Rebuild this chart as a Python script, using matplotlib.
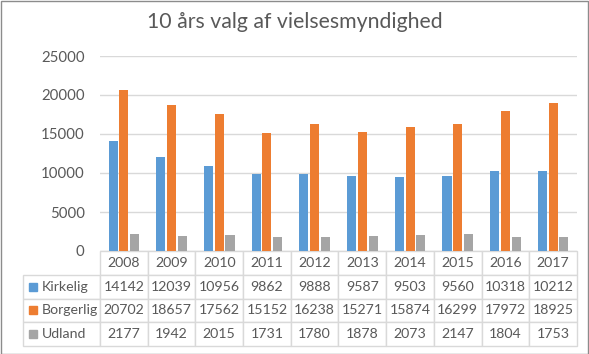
import matplotlib.pyplot as plt
from matplotlib.patches import Rectangle

plt.rcParams['font.family'] = ['Lato', 'DejaVu Sans']

# data
years = ['2008', '2009', '2010', '2011', '2012', '2013', '2014', '2015', '2016', '2017']
kirkelig = [14142, 12039, 10956, 9862, 9888, 9587, 9503, 9560, 10318, 10212]
borgerlig = [20702, 18657, 17562, 15152, 16238, 15271, 15874, 16299, 17972, 18925]
udland = [2177, 1942, 2015, 1731, 1780, 1878, 2073, 2147, 1804, 1753]

series = [('Kirkelig', kirkelig, '#5B9BD5'),
          ('Borgerlig', borgerlig, '#ED7D31'),
          ('Udland', udland, '#A5A5A5')]

txt = '#595959'
grid = '#D9D9D9'

W, H = 589, 354
fig = plt.figure(figsize=(W / 100, H / 100), dpi=100)

# axes placed in pixel terms
left, right, top, bottom = 100, 577, 56, 251
ax = fig.add_axes([left / W, 1 - bottom / H, (right - left) / W, (bottom - top) / H])
px = 1 / (right - left)   # one pixel in axes fraction, x
py = 1 / (bottom - top)   # one pixel in axes fraction, y

bw = 0.19
offs = [-0.225, 0.0, 0.225]
x = list(range(len(years)))
for (name, vals, col), o in zip(series, offs):
    ax.bar([i + o for i in x], vals, width=bw, color=col, zorder=3)

ax.set_xlim(-0.5, len(years) - 0.5)
ax.set_ylim(0, 25000)
ax.set_yticks(range(0, 25001, 5000))
ax.yaxis.grid(True, color=grid, linewidth=1, zorder=0)
ax.tick_params(axis='y', length=0, pad=11, labelsize=10.8, labelcolor=txt)
ax.tick_params(axis='x', length=0, labelbottom=False)
for s in ax.spines.values():
    s.set_visible(False)

# data table under the bars
cell_text = [[str(v) for v in vals] for _, vals, _ in series]
lab_w = (left - 23) * px
tab_h = (346 - bottom) * py
tbl = ax.table(cellText=cell_text, colLabels=years, cellLoc='center',
               colWidths=[1 / len(years)] * len(years),
               bbox=[0, -tab_h, 1, tab_h])
tbl.auto_set_font_size(False)
h = tbl[1, 0].get_height()
for r in range(1, len(series) + 1):
    tbl.add_cell(r, -1, width=lab_w, height=h, text='', loc='left')
for (r, c), cell in tbl.get_celld().items():
    cell.set_edgecolor(grid)
    cell.set_linewidth(1)
    cell.get_text().set_color(txt)
    cell.get_text().set_fontsize(10.2)

# legend keys and names in the label column
row_h = tab_h / 4
for k, (name, vals, col) in enumerate(series):
    yc = -row_h * (k + 1.5)
    ax.add_patch(Rectangle((-lab_w + 6 * px, yc - 4 * py), 8 * px, 8 * py,
                           transform=ax.transAxes, color=col, clip_on=False))
    ax.text(-lab_w + 19 * px, yc, name, transform=ax.transAxes, ha='left',
            va='center', fontsize=10.2, color=txt)

fig.text(0.5, 1 - 22 / H, '10 års valg af vielsesmyndighed', ha='center', va='center',
         fontsize=15.3, color=txt)

fig.patches.append(Rectangle((0.5 / W, 0.5 / H), 1 - 1.5 / W, 1 - 1.5 / H,
                             transform=fig.transFigure, fill=False,
                             edgecolor='#8C8C8C', linewidth=1))

fig.savefig('out.png', dpi=100)
